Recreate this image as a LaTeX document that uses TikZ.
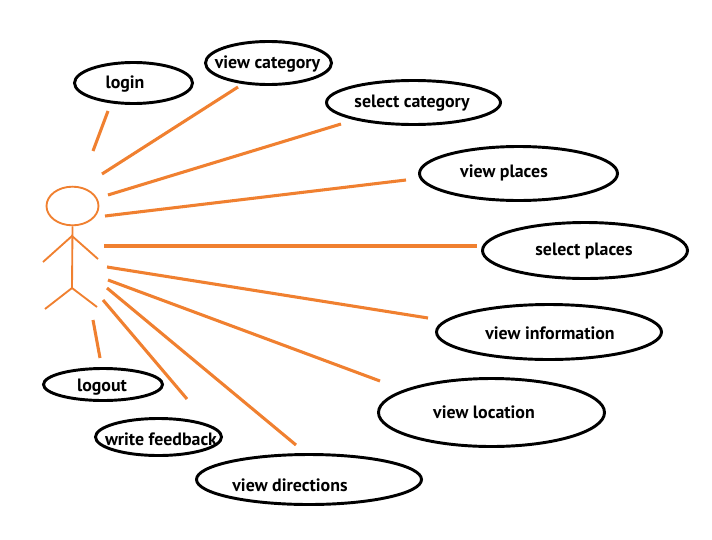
\documentclass[tikz,border=0pt]{standalone}
\usepackage{fontspec}
\setmainfont{PT Sans}[UprightFont=* Bold]
\usetikzlibrary{shapes.geometric}
\definecolor{actororange}{RGB}{240,128,48}
\tikzset{
  x=0.75pt,y=-0.75pt,
  usecase/.style={draw=black,line width=2.2pt,ellipse,inner sep=0pt,outer sep=0pt},
  caselabel/.style={inner sep=0pt,font=\fontsize{13.4pt}{15pt}\selectfont,text=black,anchor=base},
  assoc/.style={draw=actororange,line width=2.3pt},
  limb/.style={draw=actororange,line width=1.4pt},
}
\newcommand{\ucase}[4]{%
  \node[usecase,minimum width=#3*0.75pt,minimum height=#4*0.75pt] (#1) at (#2) {};
}
\begin{document}
\begin{tikzpicture}
\useasboundingbox (0,0) rectangle (712,539);
% use cases
\ucase{login}{133.5,83}{118}{41}
\ucase{viewcat}{268.5,63}{126}{43}
\ucase{selcat}{413.5,102.5}{174}{44}
\ucase{viewpl}{518.5,173.5}{198}{54}
\ucase{selpl}{585,250.5}{205}{56}
\ucase{viewinfo}{549,332}{225}{55}
\ucase{viewloc}{491.5,412.5}{226}{68}
\ucase{logout}{103,384.5}{119}{32}
\ucase{feedback}{158.5,437}{126}{37}
\ucase{viewdir}{309,479.5}{225}{50}
% labels
\node[caselabel] (tlogin) at (125,88) {login};
\node[caselabel] (tviewcat) at (267.5,68) {view category};
\node[caselabel] (tselcat) at (412,107) {select category};
\node[caselabel] (tviewpl) at (504,177) {view places};
\node[caselabel] (tselpl) at (584,255) {select places};
\node[caselabel] (tviewinfo) at (550,339) {view information};
\node[caselabel] (tviewloc) at (484,418) {view location};
\node[caselabel] (tlogout) at (102,391) {logout};
\node[caselabel] (tfeedback) at (161,445) {write feedback};
\node[caselabel] (tviewdir) at (290,491) {view directions};
% free ends of the associations
\coordinate (a1) at (93,151);   \coordinate (e1) at (108,111);
\coordinate (a2) at (102,174);  \coordinate (e2) at (238,87);
\coordinate (a3) at (108,195);  \coordinate (e3) at (341,124);
\coordinate (a4) at (105,216);  \coordinate (e4) at (406,180);
\coordinate (a5) at (104,246);  \coordinate (e5) at (477,246);
\coordinate (a6) at (107,267);  \coordinate (e6) at (428,318);
\coordinate (a7) at (108,280);  \coordinate (e7) at (380,381);
\coordinate (a8) at (107,288);  \coordinate (e8) at (296,445);
\coordinate (a9) at (103,300);  \coordinate (e9) at (187,399);
\coordinate (a10) at (93,320);  \coordinate (e10) at (100,358);
\foreach \i in {1,...,10} \draw[assoc] (a\i) -- (e\i);
% actor
\node[draw=actororange,line width=1.4pt,ellipse,inner sep=0pt,minimum width=39pt,minimum height=29pt] (head) at (72.5,206) {};
\coordinate (shoulder) at (72,236);
\coordinate (hip) at (72,288);
\coordinate (lhand) at (43,262);
\coordinate (rhand) at (98,259);
\coordinate (lfoot) at (45,309);
\coordinate (rfoot) at (97,307);
\draw[limb] (head.south) -- (hip);
\draw[limb] (lhand) -- (shoulder) -- (rhand);
\draw[limb] (lfoot) -- (hip) -- (rfoot);
\end{tikzpicture}
\end{document}
